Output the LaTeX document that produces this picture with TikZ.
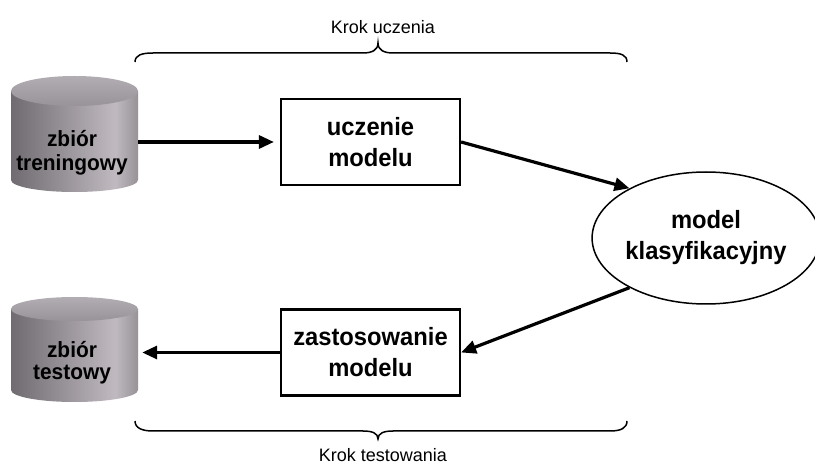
\documentclass[tikz,border=0pt]{standalone}
\usepackage{fontspec}
\setmainfont{Liberation Sans}
\newfontface\lblbold{Liberation Sans Bold}[FakeStretch=0.95]
\usetikzlibrary{arrows.meta,shapes.geometric}

\definecolor{cylA}{RGB}{112,107,112}
\definecolor{cylB}{RGB}{150,145,150}
\definecolor{cylC}{RGB}{192,186,192}
\definecolor{cylD}{RGB}{150,146,150}
\definecolor{topA}{RGB}{178,173,178}
\definecolor{topB}{RGB}{152,147,152}

% grey cylinder body: dark on the left, highlight right of centre
\pgfdeclarehorizontalshading{cylbody}{100bp}{%
  color(0bp)=(cylA); color(25bp)=(cylA); color(45bp)=(cylB);
  color(66bp)=(cylC); color(75bp)=(cylD); color(100bp)=(cylD)}

\tikzset{
  stepbox/.style={draw, line width=2.2pt, fill=white, inner sep=0pt,
    minimum width=179pt, minimum height=86pt, align=center,
    font=\lblbold\fontsize{25}{31}\selectfont},
  modelnode/.style={draw, ellipse, line width=1.5pt, fill=white, inner sep=0pt,
    minimum width=221pt, minimum height=132pt, align=center,
    font=\lblbold\fontsize{25}{31}\selectfont},
  cyltext/.style={align=center, inner sep=0pt,
    font=\lblbold\fontsize{22}{24}\selectfont},
  cylarea/.style={inner sep=0pt, minimum width=127pt},
  flow/.style={line width=3.2pt, -{Triangle[length=15pt,width=13pt]}},
  brace/.style={line width=1.5pt},
  bracelabel/.style={inner sep=0pt, font=\fontsize{18}{20}\selectfont}
}

\begin{document}
\begin{tikzpicture}[x=1pt, y=-1pt]
\useasboundingbox (0,0) rectangle (815,465);

% training-set cylinder
\shade[shading=cylbody] (11,91) -- (11,180)
  arc[start angle=180, end angle=0, x radius=63.5, y radius=12] -- (138,91) -- cycle;
\shade[top color=topA, bottom color=topB] (74.5,91) ellipse[x radius=63.5, y radius=15];
\node[cylarea, minimum height=116pt] (trainset) at (74.5,134) {};
\node[cyltext] (trainlbl) at (72,153) {zbiór\\treningowy};

% test-set cylinder
\shade[shading=cylbody] (11,309) -- (11,390)
  arc[start angle=180, end angle=0, x radius=63.5, y radius=12] -- (138,309) -- cycle;
\shade[top color=topA, bottom color=topB] (74.5,309) ellipse[x radius=63.5, y radius=12];
\node[cylarea, minimum height=105pt] (testset) at (74.5,349) {};
\node[cyltext, font=\lblbold\fontsize{22}{22}\selectfont] (testlbl) at (72,363) {zbiór\\testowy};

% processing steps and the model
\node[stepbox] (learn) at (370.5,142) {uczenie\\modelu};
\node[stepbox] (apply) at (370.5,352.5) {zastosowanie\\modelu};
\node[modelnode] (clf) at (706,238) {model\\klasyfikacyjny};

% data flow
\draw[flow, shorten >=6pt] (learn.west -| trainset.east) -- (learn.west);
\draw[flow] (learn.east) -- (clf.147);
\draw[flow] (clf.213) -- (apply.east);
\draw[flow, shorten >=4pt] (apply.west) -- (apply.west -| testset.east);

% braces grouping the two phases
\draw[brace] (135,62) .. controls (135,55) and (142,53) .. (153,53) -- (363,53)
  .. controls (372,53) and (378,50) .. (378,43)
  .. controls (378,50) and (384,53) .. (393,53) -- (610,53)
  .. controls (621,53) and (627,55) .. (627,62);
\node[bracelabel, anchor=base] (learnstep) at (383,34) {Krok uczenia};

\draw[brace] (135,421) .. controls (135,428) and (142,431) .. (153,431) -- (363,431)
  .. controls (372,431) and (378,433) .. (378,439)
  .. controls (378,433) and (384,431) .. (393,431) -- (610,431)
  .. controls (621,431) and (627,428) .. (627,421);
\node[bracelabel, anchor=base] (teststep) at (383,461) {Krok testowania};
\end{tikzpicture}
\end{document}
